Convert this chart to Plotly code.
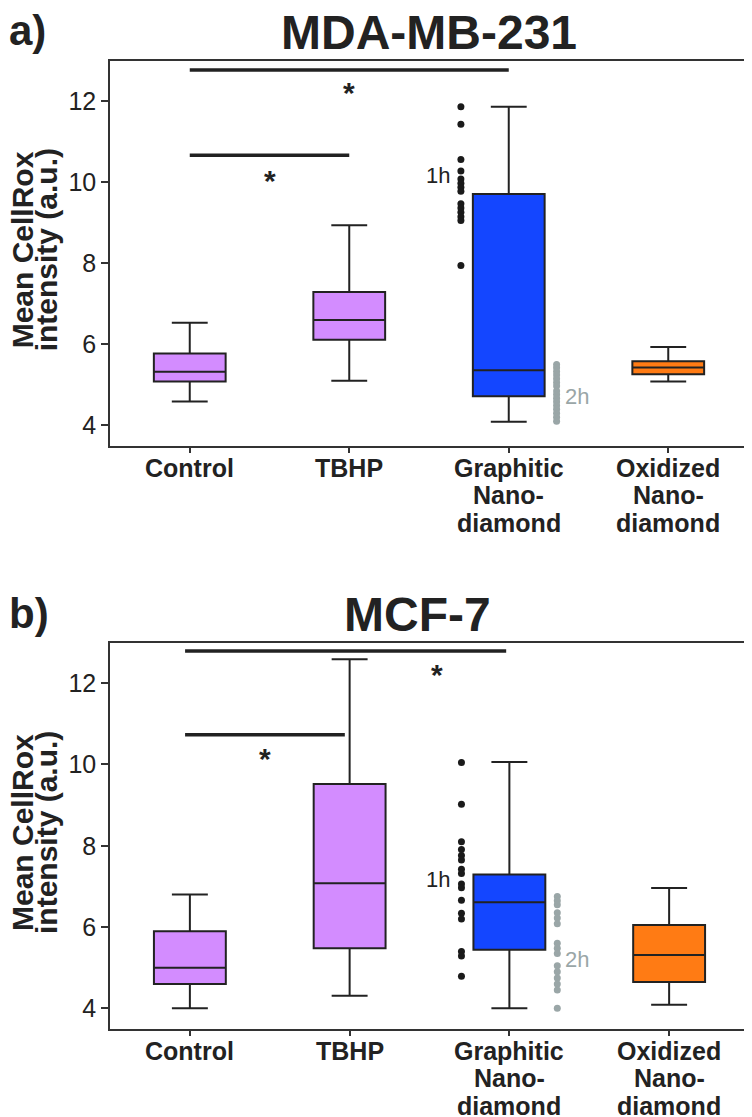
import plotly.graph_objects as go

# The page adds an 8px body margin; the figure is sized and offset to compensate.
OFF = 8
W, H = 752 - OFF, 1117 - OFF

categories = ["Control", "TBHP", "Graphitic<br>Nano-<br>diamond", "Oxidized<br>Nano-<br>diamond"]
box_colors = ["#D38CFF", "#D38CFF", "#1446FF", "#FF7B14"]
y_ticks = [4, 6, 8, 10, 12]
panel_letters = ["a)", "b)"]
panel_titles = ["MDA-MB-231", "MCF-7"]

# Panel a (MDA-MB-231) box statistics per category
a_lower = [4.59, 5.10, 4.09, 5.08]
a_q1 = [5.08, 6.11, 4.72, 5.26]
a_median = [5.32, 6.60, 5.36, 5.43]
a_q3 = [5.77, 7.29, 9.70, 5.58]
a_upper = [6.53, 8.93, 11.85, 5.93]
a_1h = [11.85, 11.42, 10.55, 10.27, 10.07, 9.97, 9.87, 9.77, 9.46, 9.36, 9.25, 9.14, 9.05, 7.94]
a_2h = [5.50, 5.42, 5.33, 5.24, 5.15, 5.06, 4.97, 4.85, 4.76, 4.67, 4.58, 4.49, 4.40, 4.30, 4.20, 4.10]
a_sig_x0 = [0.0, 0.0]
a_sig_x1 = [2.0, 1.0]
a_sig_y = [12.76, 10.66]
a_star_x = [1.0, 0.5]
a_star_y = [12.34, 10.19]
a_lab_1h = 10.17
a_lab_2h = 4.71

# Panel b (MCF-7)
b_lower = [4.00, 4.31, 4.00, 4.09]
b_q1 = [4.60, 5.48, 5.44, 4.65]
b_median = [5.00, 7.08, 6.61, 5.31]
b_q3 = [5.90, 9.52, 7.29, 6.05]
b_upper = [6.80, 12.59, 10.06, 6.96]
b_1h = [10.05, 9.02, 8.10, 7.91, 7.76, 7.65, 7.42, 7.32, 7.06, 6.97, 6.66, 6.34, 6.20, 5.40, 5.29, 4.79]
b_2h = [6.75, 6.65, 6.55, 6.35, 6.22, 6.08, 5.60, 5.48, 5.35, 5.05, 4.90, 4.75, 4.60, 4.45, 4.00]
b_sig_x0 = [-0.03, -0.03]
b_sig_x1 = [1.98, 0.97]
b_sig_y = [12.79, 10.73]
b_star_x = [1.55, 0.47]
b_star_y = [12.37, 10.29]
b_lab_1h = 7.16
b_lab_2h = 5.19

YR = [3.5, 12.98]
XR = [-0.5, 3.5]

def px(x):
    return (x - OFF) / W

def py(y):
    return 1 - (y - OFF) / H

# plot area pixel geometry in screen pixels (left, right, top, bottom)
areas = [(110, 748, 61, 445.7), (110, 749, 643.3, 1028.7)]

fig = go.Figure()

panels = [
    dict(lower=a_lower, q1=a_q1, med=a_median, q3=a_q3, upper=a_upper, h1=a_1h, h2=a_2h,
         sx0=a_sig_x0, sx1=a_sig_x1, sy=a_sig_y, stx=a_star_x, sty=a_star_y, l1=a_lab_1h, l2=a_lab_2h),
    dict(lower=b_lower, q1=b_q1, med=b_median, q3=b_q3, upper=b_upper, h1=b_1h, h2=b_2h,
         sx0=b_sig_x0, sx1=b_sig_x1, sy=b_sig_y, stx=b_star_x, sty=b_star_y, l1=b_lab_1h, l2=b_lab_2h),
]

dark = "#222222"
gray = "#9AA6A7"
annotations = []

for p, d in enumerate(panels):
    xa = "x" if p == 0 else "x2"
    ya = "y" if p == 0 else "y2"
    for i in range(4):
        fig.add_trace(go.Box(
            x=[i], q1=[d["q1"][i]], median=[d["med"][i]], q3=[d["q3"][i]],
            lowerfence=[d["lower"][i]], upperfence=[d["upper"][i]],
            fillcolor=box_colors[i], line=dict(color=dark, width=2),
            width=0.45, whiskerwidth=0.5, boxpoints=False,
            xaxis=xa, yaxis=ya, showlegend=False, hoverinfo="skip"))
    fig.add_trace(go.Scatter(x=[1.7] * len(d["h1"]), y=d["h1"], mode="markers",
                             marker=dict(color="#1a1a1a", size=7), xaxis=xa, yaxis=ya,
                             showlegend=False, hoverinfo="skip"))
    fig.add_trace(go.Scatter(x=[2.3] * len(d["h2"]), y=d["h2"], mode="markers",
                             marker=dict(color=gray, size=7), xaxis=xa, yaxis=ya,
                             showlegend=False, hoverinfo="skip"))
    for k in range(len(d["sy"])):
        fig.add_trace(go.Scatter(x=[d["sx0"][k], d["sx1"][k]], y=[d["sy"][k], d["sy"][k]],
                                 mode="lines", line=dict(color=dark, width=3.5),
                                 xaxis=xa, yaxis=ya, showlegend=False, hoverinfo="skip"))
        annotations.append(dict(x=d["stx"][k], y=d["sty"][k], xref=xa, yref=ya, text="<b>*</b>",
                                showarrow=False, font=dict(size=30, color=dark, family="Liberation Sans"),
                                yshift=-6))
    annotations.append(dict(x=1.7, y=d["l1"], xref=xa, yref=ya, text="1h", showarrow=False,
                            xanchor="right", xshift=-9,
                            font=dict(size=22, color=dark, family="Liberation Sans")))
    annotations.append(dict(x=2.3, y=d["l2"], xref=xa, yref=ya, text="2h", showarrow=False,
                            xanchor="left", xshift=6,
                            font=dict(size=22, color=gray, family="Liberation Sans")))

    L, R, T, B = areas[p]
    # category labels, one annotation per line for tight spacing
    for i, cat in enumerate(categories):
        for j, line in enumerate(cat.split("<br>")):
            base = B + 31 + j * 27.5
            annotations.append(dict(x=i, y=py(base - 0.35 * 25), xref=xa, yref="paper",
                                    text="<b>" + line + "</b>", showarrow=False,
                                    yanchor="middle", borderpad=0,
                                    font=dict(size=25, color=dark, family="Liberation Sans")))
    # y-axis title in two lines
    cy = (T + B) / 2 - 3
    for j, line in enumerate(["Mean CellRox", "intensity (a.u.)"]):
        annotations.append(dict(x=px(22 + j * 24), y=py(cy), xref="paper", yref="paper",
                                text="<b>" + line + "</b>", showarrow=False, textangle=-90,
                                xanchor="center", yanchor="middle", borderpad=0,
                                font=dict(size=30, color=dark, family="Liberation Sans")))
    # panel letter and title
    annotations.append(dict(x=px(OFF), y=py(T - 30), xref="paper", yref="paper",
                            text="<b>" + panel_letters[p] + "</b>", showarrow=False,
                            xanchor="left", yanchor="middle", borderpad=0,
                            font=dict(size=42, color=dark, family="Liberation Sans")))
    annotations.append(dict(x=px((L + R) / 2 if p == 0 else 418), y=py(T - 29), xref="paper", yref="paper",
                            text="<b>" + panel_titles[p] + "</b>", showarrow=False,
                            xanchor="center", yanchor="middle", borderpad=0,
                            font=dict(size=48, color=dark, family="Liberation Sans")))

axis_common = dict(showline=True, mirror=True, linecolor="#333333", linewidth=1.5,
                   showgrid=False, zeroline=False, ticks="outside", tickcolor="#333333",
                   tickwidth=1.5, automargin=False)

for p in range(2):
    L, R, T, B = areas[p]
    xs = "xaxis" if p == 0 else "xaxis2"
    ys = "yaxis" if p == 0 else "yaxis2"
    fig.layout[xs] = dict(axis_common, domain=[px(L), px(R)], range=XR, tickvals=[0, 1, 2, 3],
                          showticklabels=False, ticklen=6,
                          anchor="y" if p == 0 else "y2")
    fig.layout[ys] = dict(axis_common, domain=[py(B), py(T)], range=YR, tickvals=y_ticks,
                          ticklen=7, tickfont=dict(size=25, color=dark, family="Liberation Sans"),
                          anchor="x" if p == 0 else "x2")

fig.update_layout(width=W, height=H, margin=dict(l=0, r=0, t=0, b=0, autoexpand=False),
                  plot_bgcolor="white", paper_bgcolor="white",
                  annotations=annotations, showlegend=False)

fig.write_html("out.html")
